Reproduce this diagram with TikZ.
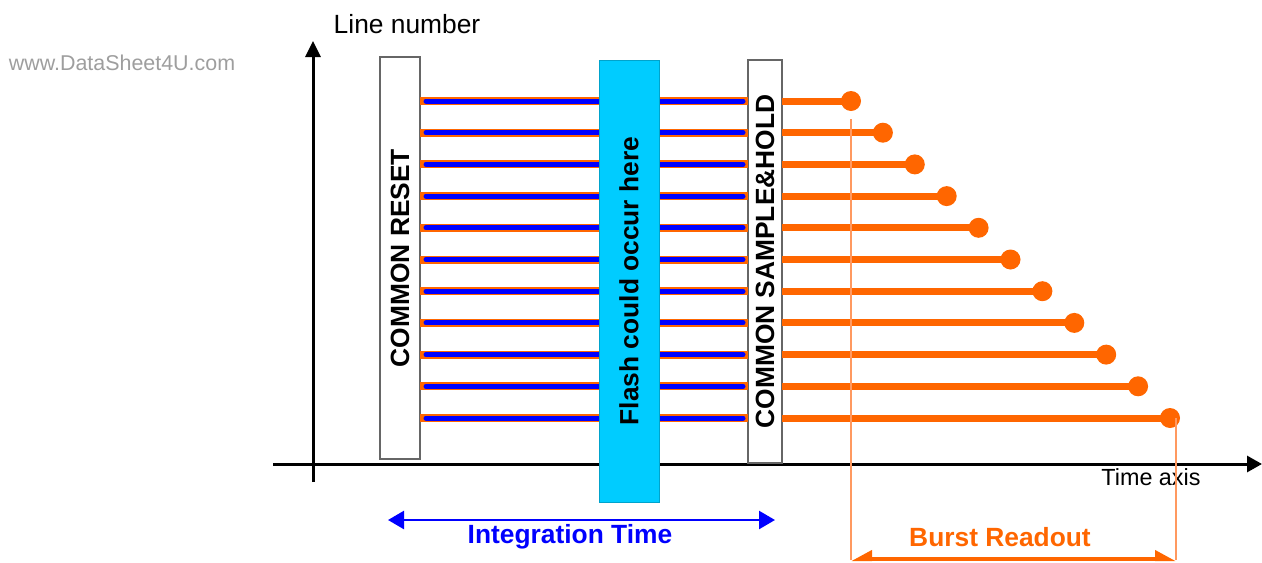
\documentclass[tikz,border=0pt]{standalone}
\usepackage{fontspec}
\setmainfont{Liberation Sans}
\usetikzlibrary{arrows.meta,calc}
\definecolor{orng}{HTML}{FF6600}
\definecolor{lorng}{HTML}{FF9960}
\definecolor{blu}{HTML}{0000FF}
\definecolor{cyn}{HTML}{00CCFF}
\definecolor{bordergray}{HTML}{666666}
\tikzset{
  axis/.style={line width=0.06cm, black},
  tallbox/.style={draw=bordergray, line width=0.03cm, fill=white},
  lbl/.style={font=\fontsize{15}{18}\selectfont\bfseries, inner sep=0pt},
  plain/.style={font=\fontsize{15}{18}\selectfont, inner sep=0pt},
  oline/.style={orng, line width=0.16cm},
  bline/.style={blu, line width=0.1cm, line cap=round},
  rline/.style={orng, line width=0.14cm},
  dotc/.style={circle, fill=orng, minimum size=0.4cm, inner sep=0pt},
  thinline/.style={lorng, line width=0.03cm},
}
\begin{document}
\begin{tikzpicture}[x=0.02cm,y=-0.02cm]
\useasboundingbox (0,0) rectangle (1262,562);
% watermark
\node[font=\fontsize{12.2}{14}\selectfont, text=black!38, inner sep=0pt] (wm) at (122,63) {www.DataSheet4U.com};
% axes
\coordinate (ybot) at (313,482);
\coordinate (ytop) at (313,41);
\coordinate (xl) at (273,464);
\coordinate (xr) at (1262,464);
\draw[axis, -{Triangle[length=0.32cm,width=0.3cm]}] (ybot) -- (ytop);
\draw[axis, -{Triangle[length=0.3cm,width=0.32cm]}] (xl) -- (xr);
\node[plain] (ylab) at (407,24) {Line number};
\node[plain, font=\fontsize{13.3}{16}\selectfont] (xlab) at (1151,477) {Time axis};
% reset box
\node[tallbox, minimum width=0.8cm, minimum height=8.04cm, inner sep=0pt] (reset) at (400,258) {};
% sample & hold box
\node[tallbox, minimum width=0.68cm, minimum height=8.06cm, inner sep=0pt] (sh) at (765,261.5) {};
% lines
\foreach \i in {0,...,10}{
  \pgfmathsetmacro{\yy}{101+31.7*\i}
  \pgfmathsetmacro{\xd}{851+31.9*\i}
  \coordinate (la\i) at (420,\yy);
  \coordinate (lb\i) at (748,\yy);
  \coordinate (ba\i) at (426,\yy);
  \coordinate (bb\i) at (743,\yy);
  \coordinate (ra\i) at (782,\yy);
  \draw[oline] (la\i) -- (lb\i);
  \draw[bline] (ba\i) -- (bb\i);
  \node[dotc] (d\i) at (\xd,\yy) {};
  \draw[rline] (ra\i) -- (d\i.center);
}
% flash box
\node[fill=cyn, draw=cyn!80!black, line width=0.01cm, minimum width=1.2cm, minimum height=8.84cm, inner sep=0pt] (flash) at (629,281) {};
% texts in boxes
\node[lbl, rotate=90] (resettxt) at (reset.center) {COMMON RESET};
\node[lbl, rotate=90] (flashtxt) at (flash.center) {Flash could occur here};
\node[lbl, rotate=90] (shtxt) at (sh.center) {COMMON SAMPLE\&HOLD};
% integration time
\coordinate (ia) at (388,520);
\coordinate (ib) at (775,520);
\draw[blu, line width=0.05cm, {Triangle[length=0.32cm,width=0.36cm]}-{Triangle[length=0.32cm,width=0.36cm]}] (ia) -- (ib);
\node[lbl, text=blu] (itxt) at (570,537) {Integration Time};
% burst readout
\coordinate (t0) at (851,119);
\coordinate (t1) at (851,560);
\coordinate (t2) at (1176,560);
\coordinate (t2top) at (1176,418);
\draw[thinline] (t0) -- (t1);
\draw[thinline] (t2top) -- (t2);
\coordinate (bra) at (851,559);
\coordinate (brb) at (1176,559);
\draw[orng, line width=0.08cm, {Triangle[harpoon,swap,length=0.34cm,width=0.34cm]}-{Triangle[harpoon,length=0.34cm,width=0.34cm]}] (bra) -- (brb);
\node[lbl, text=orng] (btxt) at (1000,537) {Burst Readout};
\end{tikzpicture}
\end{document}
